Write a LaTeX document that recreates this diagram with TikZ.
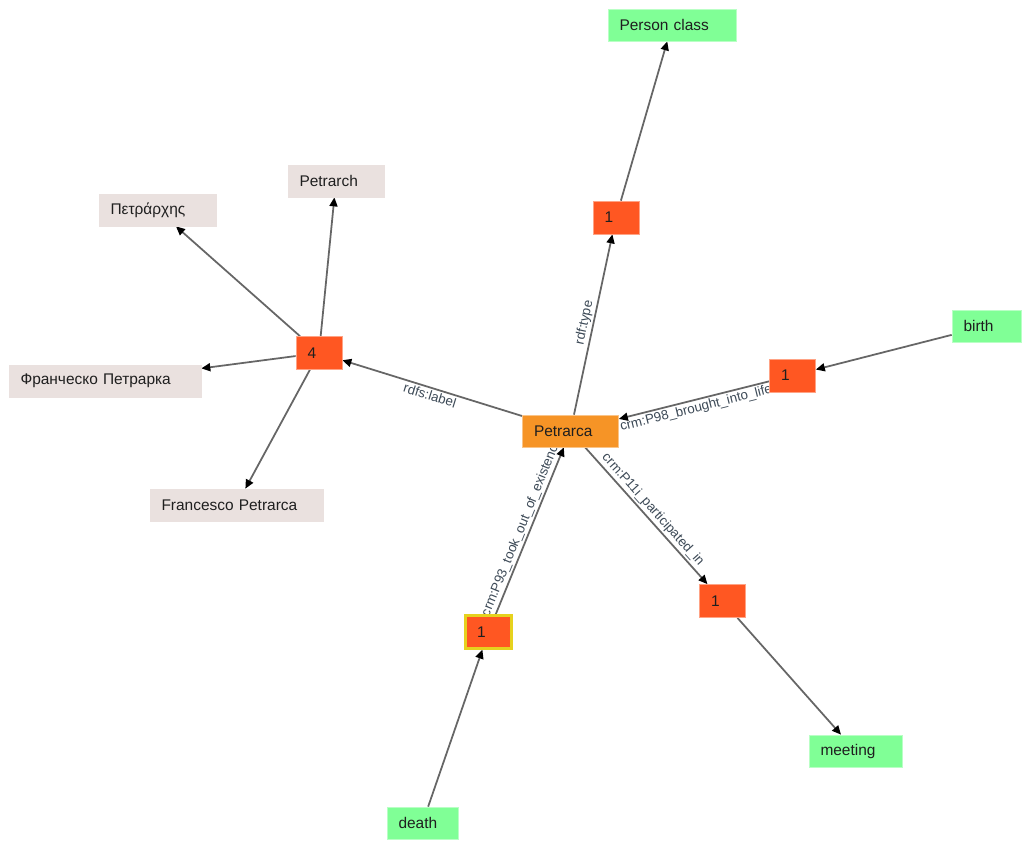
\documentclass[tikz,border=0pt]{standalone}
\usepackage{fontspec}
\setmainfont{Liberation Sans}
\usepackage{xcolor}
\usetikzlibrary{arrows.meta,backgrounds}
\definecolor{clsgreen}{HTML}{80FF96}
\definecolor{litbeige}{HTML}{EAE1DF}
\definecolor{cntred}{HTML}{FF5722}
\definecolor{resorange}{HTML}{F69426}
\definecolor{edgegray}{HTML}{666666}
\definecolor{labgray}{HTML}{3D4A57}
\definecolor{selyellow}{HTML}{E6D21E}

\begin{document}
\begin{tikzpicture}[
  x=0.02cm, y=-0.02cm,
  box/.style={draw, line width=0.4pt, align=left, font=\fontsize{8.8}{10}\selectfont, text=black!88, inner xsep=0.23cm, inner ysep=0pt, minimum height=0.64cm},
  cls/.style={box, fill=clsgreen, draw=clsgreen!55!white},
  lit/.style={box, fill=litbeige, draw=litbeige},
  cnt/.style={box, fill=cntred, draw=cntred!55!white, text width=0.46cm, minimum height=0.66cm},
  res/.style={box, fill=resorange, draw=resorange!55!white},
  arr/.style={-{Triangle[length=1.8mm, width=1.6mm, color=black]}, line width=1pt, draw=edgegray},
  lab/.style={sloped, font=\fontsize{7.6}{9}\selectfont, text=labgray, inner sep=1pt}
]
% resource and its counters
\node[res, text width=1.46cm] (petrarca)  at (570.5,431) {Petrarca};
\node[cnt] (typeN)   at (616,217.5) {1};
\node[cnt] (labelsN) at (319,353)   {4};
\node[cnt] (birthN)  at (792.5,375.5) {1};
\node[cnt] (partN)   at (722.5,601) {1};
\node[cnt, draw=selyellow, line width=1.3pt] (deathN) at (488.5,632) {1};
% classes
\node[cls, text width=2.10cm] (personcls) at (672,25)    {Person class};
\node[cls, text width=0.92cm] (birth)     at (986.5,326) {birth};
\node[cls, text width=1.40cm] (meeting)   at (855.5,751) {meeting};
\node[cls, text width=0.96cm] (death)     at (422.5,823) {death};
% literals
\node[lit, text width=1.46cm] (petrarch)  at (336,181)   {Petrarch};
\node[lit, text width=1.88cm] (greek)     at (157.5,210) {Πετράρχης};
\node[lit, text width=3.38cm] (russian)   at (105,381)   {Франческо Петрарка};
\node[lit, text width=3.00cm] (francesco) at (236.5,505) {Francesco Petrarca};

\begin{scope}[on background layer]
\fill[white] (0,0) rectangle (1032,852);
\draw[arr] (petrarca) -- node[lab, above]{rdf:type} (typeN);
\draw[arr] (typeN) -- (personcls);
\draw[arr] (petrarca) -- node[lab, below]{rdfs:label} (labelsN);
\draw[arr] (labelsN) -- (petrarch);
\draw[arr] (labelsN) -- (greek);
\draw[arr] (labelsN) -- (russian);
\draw[arr] (labelsN) -- (francesco);
\draw[arr] (birth) -- (birthN);
\draw[arr] (birthN) -- node[lab, below]{crm:P98\_brought\_into\_life} (petrarca);
\draw[arr] (petrarca) -- node[lab, above]{crm:P11i\_participated\_in} (partN);
\draw[arr] (partN) -- (meeting);
\draw[arr] (death) -- (deathN);
\draw[arr] (deathN) -- node[lab, above]{crm:P93\_took\_out\_of\_existence} (petrarca);
\end{scope}
\end{tikzpicture}
\end{document}
